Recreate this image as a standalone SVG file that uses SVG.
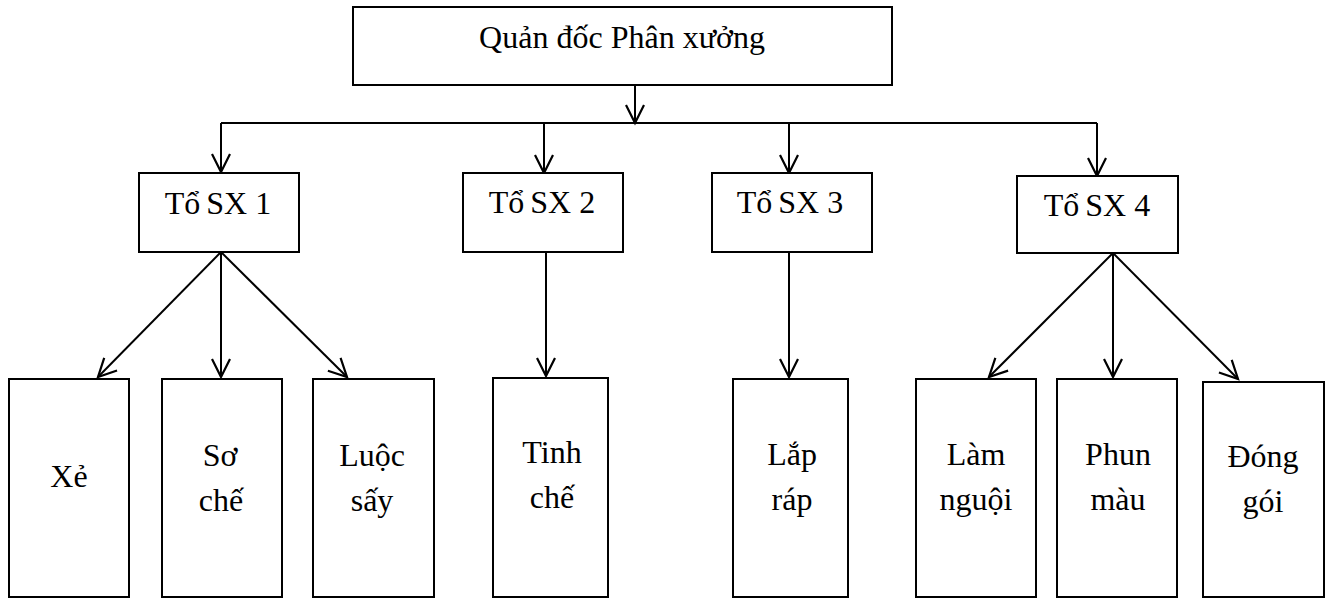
<svg xmlns="http://www.w3.org/2000/svg" width="1329" height="598" viewBox="0 0 1329 598">
  <style>
    .box { fill: #ffffff; stroke: #000000; stroke-width: 2; }
    .lbl { font-family: 'Liberation Serif', 'DejaVu Serif', serif; font-size: 32px; fill: #000000; text-anchor: middle; }
    .edge { fill: none; stroke: #000000; stroke-width: 2; }
    .arrow { marker-end: url(#head); }
  </style>
  <defs>
    <marker id="head" markerUnits="userSpaceOnUse" markerWidth="24" markerHeight="24" viewBox="-20 -12 24 24" refX="0" refY="0" orient="auto">
      <path d="M-18,-9 L0,0 L-18,9" fill="none" stroke="#000000" stroke-width="2.2" stroke-linejoin="miter"/>
    </marker>
  </defs>

  <rect width="1329" height="598" fill="#ffffff"/>

  <!-- connectors -->
  <g id="connectors">
    <line class="edge arrow" x1="635" y1="85" x2="635" y2="123"/>
    <line class="edge" x1="221" y1="123" x2="1097" y2="123"/>
    <line class="edge arrow" x1="221" y1="123" x2="221" y2="172"/>
    <line class="edge arrow" x1="544" y1="123" x2="544" y2="173"/>
    <line class="edge arrow" x1="789" y1="123" x2="789" y2="173"/>
    <line class="edge arrow" x1="1097" y1="123" x2="1097" y2="176"/>

    <line class="edge arrow" x1="221" y1="252" x2="98" y2="377"/>
    <line class="edge arrow" x1="221" y1="252" x2="221" y2="377"/>
    <line class="edge arrow" x1="221" y1="252" x2="347" y2="377"/>

    <line class="edge arrow" x1="546" y1="252" x2="546" y2="376"/>
    <line class="edge arrow" x1="789" y1="252" x2="789" y2="377"/>

    <line class="edge arrow" x1="1113" y1="253" x2="989" y2="377"/>
    <line class="edge arrow" x1="1113" y1="253" x2="1113" y2="377"/>
    <line class="edge arrow" x1="1113" y1="253" x2="1238" y2="379"/>
  </g>

  <!-- top node -->
  <g id="quan-doc">
    <rect class="box" x="353" y="7" width="539" height="78"/>
    <text class="lbl" x="622" y="48" font-family="Liberation Serif">Quản<tspan dx="8">đốc Phân xưởng</tspan></text>
  </g>

  <!-- production teams -->
  <g id="to-sx-1">
    <rect class="box" x="139" y="173" width="160" height="79"/>
    <text class="lbl" x="218" y="214">Tổ<tspan dx="6">SX 1</tspan></text>
  </g>
  <g id="to-sx-2">
    <rect class="box" x="463" y="173" width="160" height="79"/>
    <text class="lbl" x="542" y="213">Tổ<tspan dx="6">SX 2</tspan></text>
  </g>
  <g id="to-sx-3">
    <rect class="box" x="712" y="173" width="160" height="79"/>
    <text class="lbl" x="790" y="213">Tổ<tspan dx="6">SX 3</tspan></text>
  </g>
  <g id="to-sx-4">
    <rect class="box" x="1017" y="176" width="161" height="77"/>
    <text class="lbl" x="1097" y="216">Tổ<tspan dx="6">SX 4</tspan></text>
  </g>

  <!-- work stages -->
  <g id="xe">
    <rect class="box" x="9" y="379" width="120" height="218"/>
    <text class="lbl" x="69" y="487">Xẻ</text>
  </g>
  <g id="so-che">
    <rect class="box" x="162" y="379" width="120" height="218"/>
    <text class="lbl" x="220" y="466">Sơ</text>
    <text class="lbl" x="221" y="511">chế</text>
  </g>
  <g id="luoc-say">
    <rect class="box" x="313" y="379" width="121" height="218"/>
    <text class="lbl" x="372" y="466">Luộc</text>
    <text class="lbl" x="372" y="511">sấy</text>
  </g>
  <g id="tinh-che">
    <rect class="box" x="493" y="378" width="115" height="219"/>
    <text class="lbl" x="552" y="463">Tinh</text>
    <text class="lbl" x="552" y="508">chế</text>
  </g>
  <g id="lap-rap">
    <rect class="box" x="733" y="379" width="115" height="218"/>
    <text class="lbl" x="792" y="465">Lắp</text>
    <text class="lbl" x="792" y="510">ráp</text>
  </g>
  <g id="lam-nguoi">
    <rect class="box" x="916" y="379" width="120" height="218"/>
    <text class="lbl" x="976" y="465">Làm</text>
    <text class="lbl" x="976" y="510">nguội</text>
  </g>
  <g id="phun-mau">
    <rect class="box" x="1057" y="379" width="120" height="218"/>
    <text class="lbl" x="1118" y="465">Phun</text>
    <text class="lbl" x="1118" y="510">màu</text>
  </g>
  <g id="dong-goi">
    <rect class="box" x="1203" y="382" width="121" height="215"/>
    <text class="lbl" x="1263" y="467">Đóng</text>
    <text class="lbl" x="1263" y="512">gói</text>
  </g>
</svg>
